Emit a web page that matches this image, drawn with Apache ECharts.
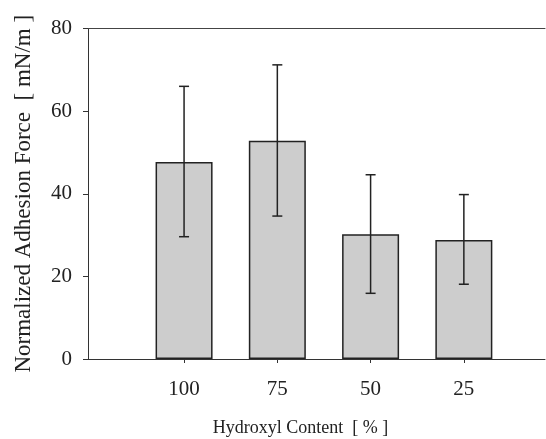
<!DOCTYPE html>
<html>
<head>
<meta charset="utf-8">
<script src="https://cdn.jsdelivr.net/npm/echarts@6/dist/echarts.min.js"></script>
<style>
html,body{margin:0;padding:0;background:#fff;}
#c{width:546px;height:439px;}
</style>
</head>
<body>
<div id="c"></div>
<script>
var categories = ['100', '75', '50', '25'];
var means = [47.7, 52.8, 30.2, 28.8];
var lowerErr = [29.6, 34.6, 15.9, 18.1];
var upperErr = [66.0, 71.2, 44.6, 39.8];
var yTicks = [0, 20, 40, 60, 80];

var FONT = '"Liberation Serif", "Times New Roman", serif';
var TXT = '#222';

var positions = categories.map(function (c, i) { return i + 1; });
var barData = means.map(function (v, i) { return [positions[i], v]; });
var errData = means.map(function (v, i) { return [positions[i], lowerErr[i], upperErr[i]]; });

var chart = echarts.init(document.getElementById('c'));
chart.setOption({
  animation: false,
  backgroundColor: '#fff',
  grid: { left: 88, right: 1, top: 28.5, bottom: 80, containLabel: false, outerBoundsMode: 'none' },
  xAxis: [{
    type: 'value', min: -0.03, max: 4.87,
    name: 'Hydroxyl Content  [ % ]',
    nameLocation: 'middle', nameGap: 60,
    nameTextStyle: { fontFamily: FONT, fontSize: 18, color: TXT, padding: [0, 32, 0, 0] },
    axisLine: { show: true, onZero: false, lineStyle: { color: '#333', width: 1 } },
    axisTick: { show: true, length: 4, customValues: positions, lineStyle: { color: '#333' } },
    axisLabel: {
      fontFamily: FONT, fontSize: 21, color: TXT, margin: 20,
      customValues: positions,
      formatter: function (v) { var i = Math.round(v) - 1; return (i >= 0 && i < categories.length) ? categories[i] : ''; }
    },
    splitLine: { show: false }
  }, {
    type: 'value', min: -0.03, max: 4.87, position: 'top',
    axisLine: { show: true, onZero: false, lineStyle: { color: '#444', width: 1 } },
    axisTick: { show: false }, axisLabel: { show: false }, splitLine: { show: false }
  }],
  yAxis: {
    type: 'value', min: yTicks[0], max: yTicks[yTicks.length - 1], interval: 20,
    name: 'Normalized Adhesion Force  [ mN/m ]',
    nameLocation: 'middle', nameGap: 53,
    nameTextStyle: { fontFamily: FONT, fontSize: 23, color: TXT },
    axisLine: { show: true, onZero: false, lineStyle: { color: '#333', width: 1 } },
    axisTick: { show: true, length: 5, lineStyle: { color: '#333' } },
    axisLabel: { fontFamily: FONT, fontSize: 21, color: TXT, margin: 16 },
    splitLine: { show: false }
  },
  series: [{
    type: 'bar',
    data: barData,
    barWidth: 57,
    itemStyle: { color: '#cdcdcd', borderColor: '#222', borderWidth: 1.5 },
    z: 2
  }, {
    type: 'custom',
    data: errData,
    z: 3,
    renderItem: function (params, api) {
      var x = api.value(0);
      var lo = api.coord([x, api.value(1)]);
      var hi = api.coord([x, api.value(2)]);
      var hw = 5;
      var st = { stroke: '#222', lineWidth: 1.5 };
      return {
        type: 'group',
        children: [
          { type: 'line', shape: { x1: lo[0], y1: lo[1], x2: hi[0], y2: hi[1] }, style: st },
          { type: 'line', shape: { x1: lo[0] - hw, y1: lo[1], x2: lo[0] + hw, y2: lo[1] }, style: st },
          { type: 'line', shape: { x1: hi[0] - hw, y1: hi[1], x2: hi[0] + hw, y2: hi[1] }, style: st }
        ]
      };
    }
  }]
});
</script>
</body>
</html>
